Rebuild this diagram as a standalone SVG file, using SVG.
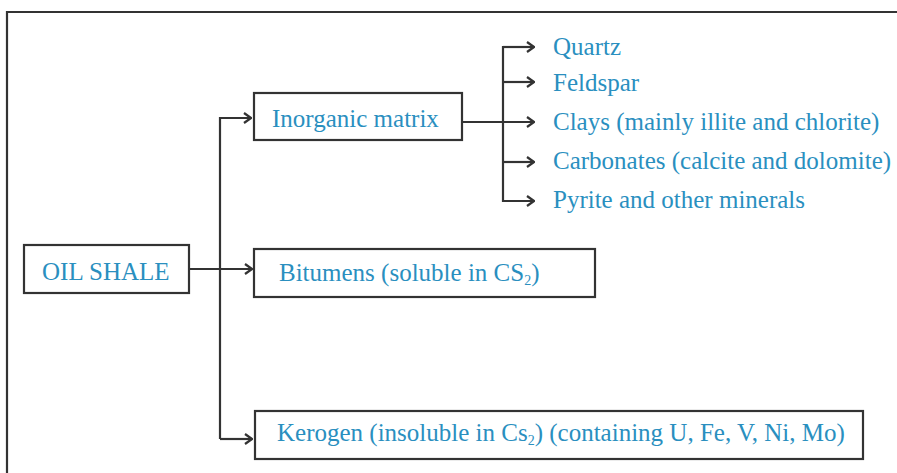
<svg xmlns="http://www.w3.org/2000/svg" width="897" height="473" viewBox="0 0 897 473">
<style>
  .box { fill: #ffffff; stroke: #333333; stroke-width: 2.2; }
  .lbl { font-family: "Liberation Serif", "Times New Roman", serif; font-size: 25px; fill: #2a8fbf; }
  .sub { font-size: 14px; }
  .conn { fill: none; stroke: #333333; stroke-width: 2.2; }
</style>
<defs>
  <marker id="arr" viewBox="0 0 12 12" refX="11" refY="6" markerWidth="12" markerHeight="12" markerUnits="userSpaceOnUse" orient="auto">
    <path d="M4,1 L11,6 L4,11" fill="none" stroke="#333333" stroke-width="2.2"/>
  </marker>
</defs>
<rect x="0" y="0" width="897" height="473" fill="#ffffff"/>
<path d="M7,480 L7,12 L900,12" fill="none" stroke="#333333" stroke-width="2.2"/>

<g id="connectors">
  <path class="conn" d="M220,439 L220,118 L251,118" marker-end="url(#arr)"/>
  <path class="conn" d="M189,269 L252,269" marker-end="url(#arr)"/>
  <path class="conn" d="M220,439 L252,439" marker-end="url(#arr)"/>
  <path class="conn" d="M462,122 L534,122" marker-end="url(#arr)"/>
  <path class="conn" d="M534,47 L503,47 L503,201 L534,201" marker-end="url(#arr)"/>
  <path class="conn" d="M503,82 L534,82" marker-end="url(#arr)"/>
  <path class="conn" d="M503,162 L534,162" marker-end="url(#arr)"/>
  <path class="conn" d="M503,47 L534,47" marker-end="url(#arr)"/>
</g>

<g id="oil-shale">
  <rect class="box" x="24" y="245" width="165" height="48"/>
  <text class="lbl" x="42" y="280">OIL SHALE</text>
</g>
<g id="inorganic-matrix">
  <rect class="box" x="254" y="93" width="208" height="47"/>
  <text class="lbl" x="272" y="127">Inorganic matrix</text>
</g>
<g id="bitumens">
  <rect class="box" x="254" y="249" width="341" height="48"/>
  <text class="lbl" x="279" y="281">Bitumens (soluble in CS<tspan class="sub" dy="4">2</tspan><tspan dy="-4">)</tspan></text>
</g>
<g id="kerogen">
  <rect class="box" x="255" y="411" width="608" height="48"/>
  <text class="lbl" x="277" y="441">Kerogen (insoluble in Cs<tspan class="sub" dy="4">2</tspan><tspan dy="-4">) (containing U, Fe, V, Ni, Mo)</tspan></text>
</g>
<g id="quartz"><text class="lbl" x="553" y="55">Quartz</text></g>
<g id="feldspar"><text class="lbl" x="553" y="91">Feldspar</text></g>
<g id="clays"><text class="lbl" x="553" y="130">Clays (mainly illite and chlorite)</text></g>
<g id="carbonates"><text class="lbl" x="553" y="169">Carbonates (calcite and dolomite)</text></g>
<g id="pyrite"><text class="lbl" x="553" y="208">Pyrite and other minerals</text></g>
</svg>
